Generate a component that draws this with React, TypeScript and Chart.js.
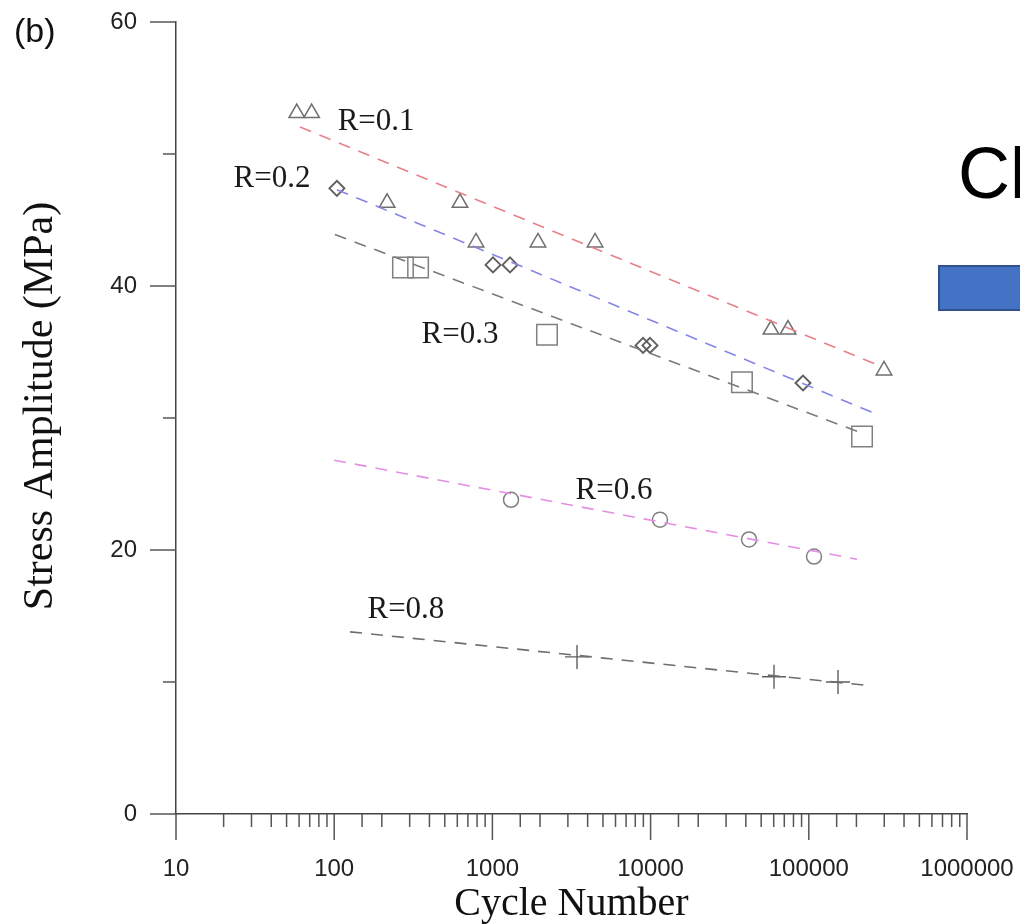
import React, { useEffect, useRef } from 'react';
import { Chart, registerables } from 'chart.js';

Chart.register(...registerables);

// ---- axis ranges ----
const xRange = [10, 1000000];
const yRange = [0, 60];
const yStep = 10;
const yLabelEvery = 20;

// ---- R = 0.1 (triangles) ----
const r01Cycles = [58, 72, 216, 624, 788, 1941, 4455, 57700, 73900, 298700];
const r01Stress = [53.1, 53.1, 46.3, 46.3, 43.3, 43.3, 43.3, 36.7, 36.7, 33.6];

// ---- R = 0.2 (diamonds) ----
const r02Cycles = [104, 1009, 1292, 8960, 9910, 91900];
const r02Stress = [47.4, 41.6, 41.6, 35.5, 35.5, 32.65];

// ---- R = 0.3 (squares) ----
const r03Cycles = [272, 339, 2213, 37800, 217000];
const r03Stress = [41.4, 41.4, 36.3, 32.7, 28.6];

// ---- R = 0.6 (circles) ----
const r06Cycles = [1311, 11460, 41900, 107900];
const r06Stress = [23.8, 22.3, 20.8, 19.5];

// ---- R = 0.8 (crosses) ----
const r08Cycles = [3426, 60260, 153000];
const r08Stress = [11.9, 10.4, 10.0];

// ---- fitted dashed lines (R=0.1, 0.2, 0.3, 0.6, 0.8) ----
const fitStartCycles = [60.8, 104, 101, 100, 126];
const fitStartStress = [52.05, 47.3, 43.9, 26.8, 13.8];
const fitEndCycles = [262000, 254700, 211000, 201700, 251000];
const fitEndStress = [34.1, 30.4, 28.9, 19.3, 9.7];

// ---- in-plot labels ----
const labelTexts = ['R=0.1', 'R=0.2', 'R=0.3', 'R=0.6', 'R=0.8'];
const labelCycles = [184, 40.4, 624, 5870, 284];
const labelStress = [52.4, 48.1, 36.3, 24.5, 15.5];

// ---- text ----
const xTitle = 'Cycle Number';
const yTitle = 'Stress Amplitude (MPa)';
const panelTag = '(b)';
const sideText = 'Cl';

const fitColors = ['#e8808a', '#8585e6', '#7a7a7a', '#e48ee4', '#6e6e6e'];

const isPow10 = (v: number) => {
  const l = Math.log10(v);
  return Math.abs(l - Math.round(l)) < 1e-9;
};

const toPts = (xs: number[], ys: number[]) => xs.map((x, i) => ({ x, y: ys[i] }));

const zeroPad = (s: any) => {
  s.paddingTop = 0;
  s.paddingBottom = 0;
  s.paddingLeft = 0;
  s.paddingRight = 0;
};

const decorPlugin = {
  id: 'decor',
  afterDraw(chart: any) {
    const ctx = chart.ctx as CanvasRenderingContext2D;
    const xs = chart.scales.x;
    const ys = chart.scales.y;
    ctx.save();
    // tick marks
    ctx.strokeStyle = '#555';
    ctx.lineWidth = 1.5;
    xs.ticks.forEach((t: any) => {
      const px = xs.getPixelForValue(t.value);
      const len = isPow10(t.value) ? 26 : 13;
      ctx.beginPath();
      ctx.moveTo(px, xs.top);
      ctx.lineTo(px, xs.top + len);
      ctx.stroke();
    });
    ys.ticks.forEach((t: any) => {
      const py = ys.getPixelForValue(t.value);
      const len = t.value % yLabelEvery === 0 ? 26 : 13;
      ctx.beginPath();
      ctx.moveTo(ys.right - len, py);
      ctx.lineTo(ys.right, py);
      ctx.stroke();
    });
    // in-plot labels
    ctx.fillStyle = '#1a1a1a';
    ctx.font = '31px "Liberation Serif"';
    ctx.textAlign = 'center';
    ctx.textBaseline = 'middle';
    labelTexts.forEach((txt, i) => {
      ctx.fillText(txt, xs.getPixelForValue(labelCycles[i]), ys.getPixelForValue(labelStress[i]));
    });
    // y axis title
    ctx.save();
    ctx.translate(52, (ys.top + ys.bottom) / 2 - 12);
    ctx.rotate(-Math.PI / 2);
    ctx.font = '42px "Liberation Serif"';
    ctx.textAlign = 'center';
    ctx.textBaseline = 'alphabetic';
    ctx.fillStyle = '#111';
    ctx.fillText(yTitle, 0, 0);
    ctx.restore();
    // panel tag
    ctx.font = '34px "Liberation Sans"';
    ctx.textAlign = 'left';
    ctx.textBaseline = 'alphabetic';
    ctx.fillStyle = '#111';
    ctx.fillText(panelTag, 14, 42);
    // side decoration
    ctx.font = '72px "Liberation Sans"';
    ctx.fillStyle = '#000';
    ctx.fillText(sideText, 958, 198);
    ctx.fillStyle = '#4472C4';
    ctx.fillRect(939, 266, 90, 44);
    ctx.strokeStyle = '#2F528F';
    ctx.lineWidth = 2;
    ctx.strokeRect(939, 266, 90, 44);
    ctx.restore();
  },
};

export default function App() {
  const ref = useRef<HTMLCanvasElement>(null);
  useEffect(() => {
    document.body.style.margin = '0';
    const markerBase = { showLine: false, backgroundColor: 'rgba(0,0,0,0)' };
    const fitSets = fitStartCycles.map((_, i) => ({
      label: 'fit ' + labelTexts[i],
      data: [
        { x: fitStartCycles[i], y: fitStartStress[i] },
        { x: fitEndCycles[i], y: fitEndStress[i] },
      ],
      showLine: true,
      borderColor: fitColors[i],
      borderWidth: 1.6,
      borderDash: [12, 9],
      pointRadius: 0,
      fill: false,
    }));
    const chart = new Chart(ref.current!, {
      type: 'scatter',
      data: {
        datasets: [
          ...fitSets,
          { ...markerBase, label: 'R=0.1', data: toPts(r01Cycles, r01Stress), pointStyle: 'triangle', pointRadius: 9, borderColor: '#6f6f6f', pointBorderWidth: 1.5 },
          { ...markerBase, label: 'R=0.2', data: toPts(r02Cycles, r02Stress), pointStyle: 'rectRot', pointRadius: 7.5, borderColor: '#5f5f5f', pointBorderWidth: 1.9 },
          { ...markerBase, label: 'R=0.3', data: toPts(r03Cycles, r03Stress), pointStyle: 'rect', pointRadius: 14.5, borderColor: '#808080', pointBorderWidth: 1.5 },
          { ...markerBase, label: 'R=0.6', data: toPts(r06Cycles, r06Stress), pointStyle: 'circle', pointRadius: 7.5, borderColor: '#808080', pointBorderWidth: 1.5 },
          { ...markerBase, label: 'R=0.8', data: toPts(r08Cycles, r08Stress), pointStyle: 'cross', pointRadius: 12, borderColor: '#5f5f5f', pointBorderWidth: 1.4 },
        ] as any,
      },
      options: {
        responsive: false,
        animation: false,
        layout: { padding: { top: 22, right: 53, bottom: 0, left: 0 } },
        plugins: { legend: { display: false }, tooltip: { enabled: false } },
        scales: {
          x: {
            type: 'logarithmic',
            min: xRange[0],
            max: xRange[1],
            afterFit: (s: any) => { s.height = 110; zeroPad(s); },
            grid: { display: false, drawTicks: false },
            border: { display: true, color: '#444', width: 1.5 },
            ticks: {
              autoSkip: false,
              maxRotation: 0,
              minRotation: 0,
              padding: 41,
              color: '#222',
              font: { family: 'Liberation Sans', size: 24 },
              callback: (v: any) => (isPow10(Number(v)) ? String(Number(v)) : ''),
            },
            title: {
              display: true,
              text: xTitle,
              color: '#111',
              padding: 0,
              font: { family: 'Liberation Serif', size: 40, lineHeight: 1 },
            },
          },
          y: {
            type: 'linear',
            min: yRange[0],
            max: yRange[1],
            afterFit: (s: any) => { s.width = 176; zeroPad(s); },
            grid: { display: false, drawTicks: false },
            border: { display: true, color: '#444', width: 1.5 },
            ticks: {
              stepSize: yStep,
              padding: 39,
              color: '#222',
              font: { family: 'Liberation Sans', size: 24 },
              callback: (v: any) => (Number(v) % yLabelEvery === 0 ? String(v) : ''),
            },
          },
        },
      } as any,
      plugins: [decorPlugin],
    });
    return () => chart.destroy();
  }, []);
  return (
    <div style={{ position: 'absolute', left: 0, top: 0, width: 1020, height: 924, background: '#fff' }}>
      <canvas ref={ref} width={1020} height={924} />
    </div>
  );
}
